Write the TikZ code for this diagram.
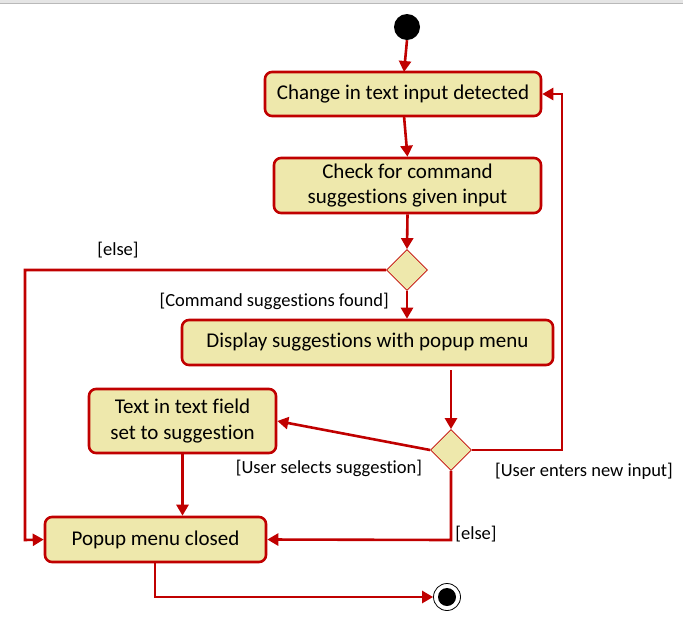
\documentclass[tikz,border=0pt]{standalone}
\usepackage{fontspec}
\setmainfont{Carlito}[Ligatures={NoCommon}]
\usetikzlibrary{shapes.geometric,arrows.meta}
\definecolor{boxfill}{RGB}{238,232,172}
\definecolor{umlred}{RGB}{192,0,0}
\tikzset{
  act/.style={draw=umlred, line width=2.6pt, fill=boxfill, rounded corners=7pt, align=center, font=\fontsize{21}{25.5}\selectfont, inner sep=0pt},
  dec/.style={draw=umlred, line width=0.8pt, fill=boxfill, diamond, minimum width=41pt, minimum height=41pt, inner sep=0pt},
  flow/.style={draw=umlred, line width=2.6pt, -{Triangle[length=11pt,width=12pt]}},
  lbl/.style={font=\fontsize{18.5}{22}\selectfont, inner sep=0pt},
}
\begin{document}
\begin{tikzpicture}[x=1pt,y=-1pt]
\useasboundingbox (0,0) rectangle (683,622);
\fill[gray!20] (0,0) rectangle (683,3);
\draw[gray!55, line width=0.8pt] (0,3) -- (683,3);
% start
\node[circle, fill=black, minimum size=26pt, inner sep=0pt] (start) at (407,27) {};
% activities
\node[act, minimum width=276pt, minimum height=44pt] (b1) at (403,94) {Change in text input detected};
\node[act, minimum width=267pt, minimum height=55pt] (b2) at (407.5,185.5) {Check for command\\suggestions given input};
\node[dec] (d1) at (407,270) {};
\node[act, minimum width=371pt, minimum height=45pt] (b3) at (367.5,342.5) {Display suggestions with popup menu};
\node[dec] (d2) at (451,450) {};
\node[act, minimum width=187pt, minimum height=64pt] (b4) at (182.5,421) {Text in text field\\set to suggestion};
\node[act, minimum width=221pt, minimum height=45pt] (b5) at (155.5,539.5) {Popup menu closed};
% end
\node[circle, draw=black, line width=0.8pt, fill=white, minimum size=27pt, inner sep=0pt] (end) at (447,597) {};
\node[circle, fill=black, minimum size=18pt, inner sep=0pt] (endin) at (end.center) {};
% coordinates
\coordinate (e1) at (404,72);
\coordinate (c1) at (25,270);
\coordinate (c2) at (25,540);
\coordinate (s3) at (451,370);
\coordinate (c3) at (562,450);
\coordinate (c4) at (562,94);
\coordinate (c5) at (451,540);
\coordinate (s5) at (155,562);
\coordinate (c6) at (155,597);
% flows
\draw[flow] (start.south) -- (e1);
\draw[flow] (404,116) -- (b2.north);
\draw[flow] (b2.south) -- (d1.north);
\draw[flow] (d1.south) -- (d1.south |- b3.north);
\draw[flow] (d1.west) -- (c1) -- (c2) -- (b5.west);
\draw[flow] (s3) -- (d2.north);
\draw[flow] (d2.west) -- (b4.east);
\draw[flow] (d2.east) -- (c3) -- (c4) -- (b1.east);
\draw[flow] (d2.south) -- (c5) -- (b5.east);
\draw[flow] (b4.south) -- (b4.south |- b5.north);
\draw[flow] (s5) -- (c6) -- (end.west);
% labels
\node[lbl] (l1) at (118,250) {[else]};
\node[lbl, anchor=east] (l2) at (389,301) {[Command suggestions found]};
\node[lbl] (l3) at (329,468) {[User selects suggestion]};
\node[lbl] (l4) at (584,471) {[User enters new input]};
\node[lbl] (l5) at (476,534) {[else]};
\end{tikzpicture}
\end{document}
